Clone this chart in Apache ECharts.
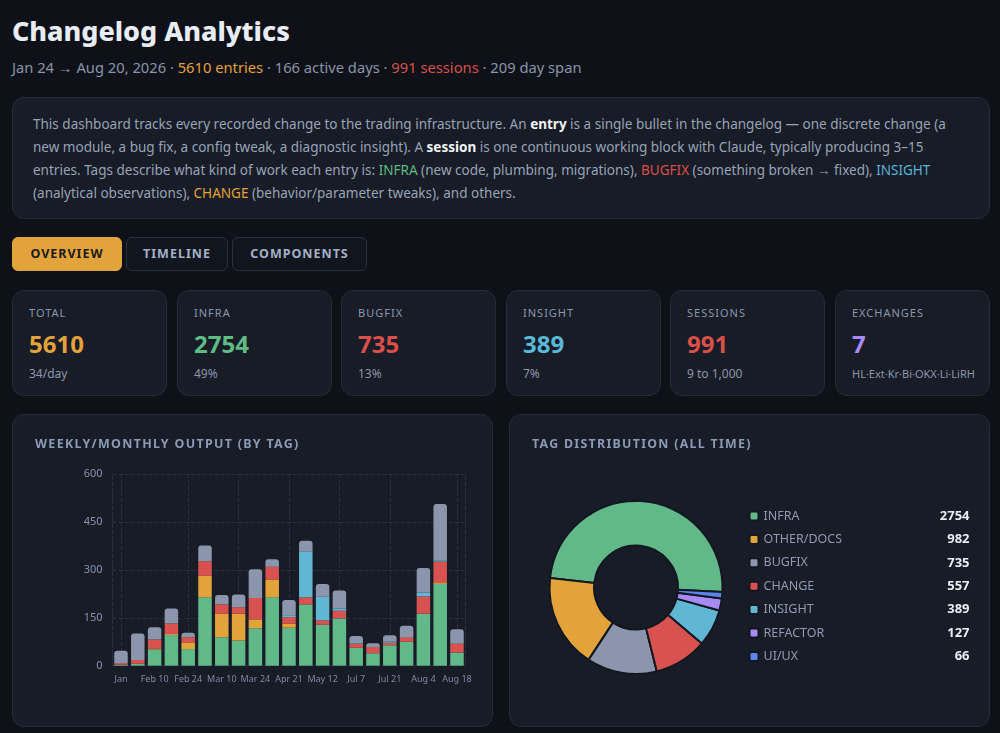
<!DOCTYPE html>
<html><head><meta charset="utf-8">
<script src="https://cdn.jsdelivr.net/npm/echarts@6/dist/echarts.min.js"></script>
<style>
*{box-sizing:border-box}
html,body{margin:0;padding:0}
body{width:1000px;height:733px;overflow:hidden;background:#0e1118;font-family:'Noto Sans',sans-serif;position:relative;color:#8c97aa}
.a{position:absolute;white-space:nowrap}
#title{left:12px;top:16px;line-height:30px;font-size:27px;font-weight:800;color:#e8edf5}
#sub{left:12px;top:57px;line-height:20px;font-size:14px;color:#8a95a9}
.or{color:#e3a23b}.rd{color:#da4f4a}.gr{color:#5fbb84}.cy{color:#58b4d8}.pu{color:#a78bfa}
.panel{position:absolute;background:#171c27;border:1px solid #252b38;border-radius:12px}
#desc{left:12px;top:97px;width:978px;height:122px}
#descText{left:33px;top:113px;font-size:13.5px;line-height:23px;color:#98a3b6}
#descText b{color:#f2f5fa;font-weight:700}
.tab{position:absolute;top:237px;height:34px;border-radius:6px;border:1px solid #2a303d;background:#11151e;color:#a3b0c8;font-weight:700;font-size:12.5px;letter-spacing:1px;text-align:center;line-height:32px}
.tab.on{background:#e2a33d;color:#1a1a1a;border-color:#e2a33d}
.card{top:290px;height:106px;width:155px}
.card .l{position:absolute;left:16px;top:15px;font-size:11px;line-height:14px;letter-spacing:1px;color:#8b96aa;white-space:nowrap}
.card .v{position:absolute;left:16px;top:39px;font-size:24px;line-height:28px;font-weight:700;white-space:nowrap}
.card .s{position:absolute;left:16px;top:75px;font-size:12px;line-height:16px;color:#8c97ab;white-space:nowrap}
.cp{top:414px;height:313px;width:481px}
.ptitle{top:435px;font-size:13.5px;line-height:18px;font-weight:700;letter-spacing:1.3px;color:#8b9ab5}
.chart{position:absolute;top:414px;width:481px;height:313px}
</style></head>
<body>
<div id="title" class="a">Changelog Analytics</div>
<div id="sub" class="a">Jan 24 → Aug 20, 2026 · <span class="or">5610 entries</span> · 166 active days · <span class="rd">991 sessions</span> · 209 day span</div>

<div id="desc" class="panel"></div>
<div id="descText" class="a"><span id="dl1">This dashboard tracks every recorded change to the trading infrastructure. An <b>entry</b> is a single bullet in the changelog — one discrete change (a</span><br>new module, a bug fix, a config tweak, a diagnostic insight). A <b>session</b> is one continuous working block with Claude, typically producing 3–15<br>entries. Tags describe what kind of work each entry is: <span class="gr">INFRA</span> (new code, plumbing, migrations), <span class="rd">BUGFIX</span> (something broken → fixed), <span class="cy">INSIGHT</span><br>(analytical observations), <span class="or">CHANGE</span> (behavior/parameter tweaks), and others.</div>

<div class="tab on" style="left:12px;width:110px">OVERVIEW</div>
<div class="tab" style="left:126px;width:102px">TIMELINE</div>
<div class="tab" style="left:232px;width:135px">COMPONENTS</div>

<div class="panel card" style="left:12px"><div class="l">TOTAL</div><div class="v or">5610</div><div class="s">34/day</div></div>
<div class="panel card" style="left:177px"><div class="l">INFRA</div><div class="v gr">2754</div><div class="s">49%</div></div>
<div class="panel card" style="left:341px"><div class="l">BUGFIX</div><div class="v rd">735</div><div class="s">13%</div></div>
<div class="panel card" style="left:506px"><div class="l">INSIGHT</div><div class="v" style="color:#5ab9d9">389</div><div class="s">7%</div></div>
<div class="panel card" style="left:670px"><div class="l">SESSIONS</div><div class="v rd">991</div><div class="s">9 to 1,000</div></div>
<div class="panel card" style="left:835px"><div class="l">EXCHANGES</div><div class="v pu">7</div><div class="s" style="font-size:11px">HL·Ext·Kr·Bi·OKX·Li·LiRH</div></div>

<div class="panel cp" style="left:12px"></div>
<div class="panel cp" style="left:509px"></div>
<div id="bar" class="chart" style="left:12px"></div>
<div id="pie" class="chart" style="left:509px"></div>
<div id="pt1" class="a ptitle" style="left:35px">WEEKLY/MONTHLY OUTPUT (BY TAG)</div>
<div id="pt2" class="a ptitle" style="left:532px">TAG DISTRIBUTION (ALL TIME)</div>

<script>
// ---- data ----
const periods = ['Jan','Feb 3','Feb 10','Feb 17','Feb 24','Mar 3','Mar 10','Mar 17','Mar 24','Mar 31','Apr 21','Apr 28','May 12','Jun 30','Jul 7','Jul 14','Jul 21','Jul 28','Aug 4','Aug 11','Aug 18'];
const infraVals   = [3,6,51,96,52,214,89,79,117,214,119,192,128,148,56,39,64,75,163,256,41];
const changeVals  = [0,0,3,3,21,67,73,84,28,56,13,0,0,0,0,0,0,0,0,5,0];
const bugfixVals  = [5,12,28,33,16,46,30,20,67,40,20,22,14,24,14,20,8,15,54,65,28];
const insightVals = [0,0,0,0,0,0,0,0,0,0,6,143,74,7,4,3,4,3,11,4,0];
const otherVals   = [39,83,38,47,14,49,29,40,90,23,48,34,40,56,19,8,19,32,78,176,45];
const yTicks = {min:0, max:600, step:150};

const tagNames  = ['INFRA','OTHER/DOCS','BUGFIX','CHANGE','INSIGHT','REFACTOR','UI/UX'];
const tagCounts = [2754,982,735,557,389,127,66];

// ---- fit text widths ----
function fit(el, target, apply){
  const w = el.getBoundingClientRect().width;
  const fs = parseFloat(getComputedStyle(el).fontSize);
  (apply||el).style.fontSize = (fs*target/w)+'px';
}
fit(document.getElementById('title'), 278);
fit(document.getElementById('sub'), 570);
fit(document.getElementById('dl1'), 914, document.getElementById('descText'));
fit(document.getElementById('pt1'), 262);
fit(document.getElementById('pt2'), 217);

const gridC = '#2a303d';
const font = 'Noto Sans';
const barChart = echarts.init(document.getElementById('bar'), null, {renderer:'canvas'});
const splitIdx = [0,4,7,10,13,16,20];
const colors = {infra:'#61b98a', change:'#e3a33b', bugfix:'#d8524f', insight:'#60b7d3', other:'#8b96ac'};
function barSeries(name, data, color, top){
  return {name, type:'bar', stack:'t', data, barWidth:13.5,
    itemStyle:{color, borderRadius: top?[3,3,0,0]:0}, emphasis:{disabled:true}};
}
barChart.setOption({
  animation:false,
  textStyle:{fontFamily:font},
  grid:{left:100.6, right:27.6, top:60, bottom:61.3},
  xAxis:{type:'category', data:periods,
    axisLine:{show:false}, axisTick:{show:false},
    axisLabel:{interval:1, fontSize:9, color:'#7e8aa2', margin:9, fontFamily:font},
    splitLine:{show:true, alignWithLabel:true, interval:(i)=>splitIdx.includes(i), lineStyle:{type:'dashed', color:gridC}}},
  yAxis:[{type:'value', min:yTicks.min, max:yTicks.max, interval:yTicks.step,
    axisLine:{show:true, lineStyle:{type:'dashed', color:gridC}},
    axisLabel:{fontSize:11, color:'#8493ad', margin:10, fontFamily:font},
    splitLine:{lineStyle:{type:'dashed', color:gridC}}},
    {type:'value', position:'right', min:yTicks.min, max:yTicks.max, interval:yTicks.step,
    axisLine:{show:true, lineStyle:{type:'dashed', color:gridC}}, axisLabel:{show:false}, axisTick:{show:false}, splitLine:{show:false}}],
  series:[
    barSeries('INFRA', infraVals, colors.infra),
    barSeries('CHANGE', changeVals, colors.change),
    barSeries('BUGFIX', bugfixVals, colors.bugfix),
    barSeries('INSIGHT', insightVals, colors.insight),
    barSeries('OTHER', otherVals, colors.other, true)
  ]
});

const pieColors = ['#61b98a','#e3a33b','#8b96ac','#d8524f','#60b7d3','#a68bf5','#5c84ee'];
const pieChart = echarts.init(document.getElementById('pie'), null, {renderer:'canvas'});
pieChart.setOption({
  animation:false,
  textStyle:{fontFamily:font},
  color:pieColors,
  legend:{orient:'vertical', left:239.5, top:95.5, padding:0, itemWidth:9, itemHeight:9, itemGap:10.4,
    icon:'roundRect', selectedMode:false,
    data:tagNames,
    formatter:(n)=>'{n|'+n+'}{v|'+tagCounts[tagNames.indexOf(n)]+'}',
    textStyle:{rich:{
      n:{width:166, fontSize:12.5, color:'#8e9ab0', lineHeight:16, fontFamily:font},
      v:{width:40, align:'right', fontSize:13, fontWeight:'bold', color:'#e8edf4', lineHeight:16, fontFamily:font}
    }}},
  series:[{type:'pie', center:[127,173.5], radius:[42,86.5], startAngle:-3, clockwise:false,
    label:{show:false}, labelLine:{show:false}, emphasis:{disabled:true},
    itemStyle:{borderColor:'#131720', borderWidth:2},
    data:tagNames.map((n,i)=>({name:n, value:tagCounts[i]}))}]
});
</script>
</body></html>
